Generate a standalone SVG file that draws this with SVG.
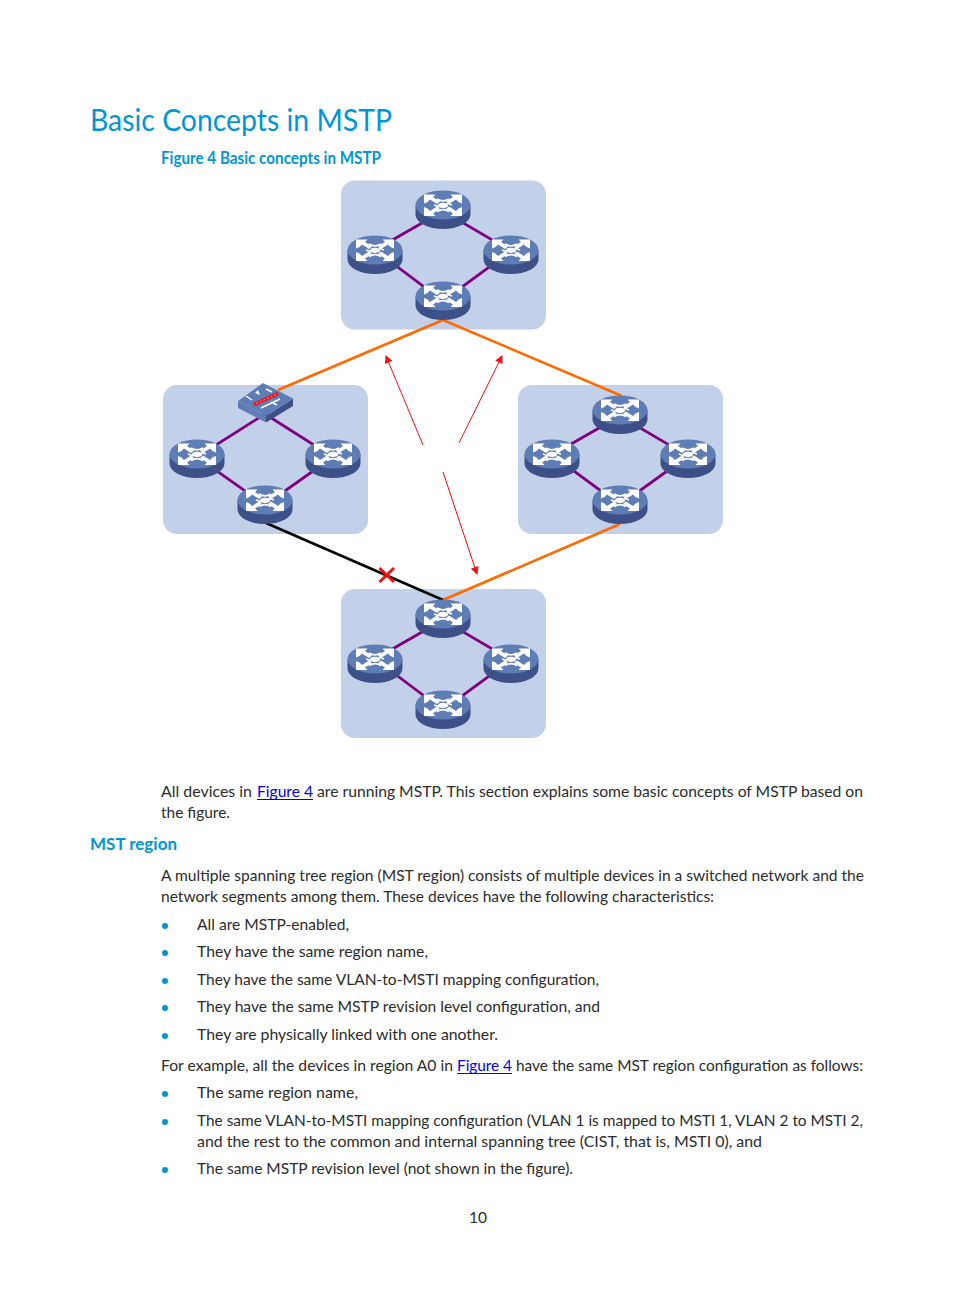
<svg xmlns="http://www.w3.org/2000/svg" width="954" height="1294" viewBox="0 0 954 1294">
<style>
text{font-family:"Lato","Liberation Sans",sans-serif;}
.b{font-size:16px;fill:#2b2b2b;}
.l{fill:#0000ee;}
.h{fill:#0096d6;font-weight:bold;font-size:16.500px;}
.r{fill:#c2d0ea;}
.p{stroke:#800080;stroke-width:2.800;fill:none;}
.o{stroke:#ff6a00;stroke-width:2.600;fill:none;}
.a{stroke:#f01010;stroke-width:1;fill:none;}
.d{fill:#0096d6;}
</style>
<defs>
<marker id="ah" viewBox="0 0 8 8" refX="7" refY="4" markerWidth="8" markerHeight="8" orient="auto" markerUnits="userSpaceOnUse"><path d="M0 0L8 4L0 8Z" fill="#f01010"/></marker>
<path id="cn" d="M-19-10.500H-7.500L-10-8L-3-3.500L-6-1L-13-5.500L-15.500-3L-19-1.500Z" fill="#fff"/>
<g id="rt">
<path d="M-27.500 0V9.500A27.500 14.500 0 0 0 27.500 9.500V0Z" fill="#3d5088"/>
<ellipse rx="27.500" ry="14.500" fill="#5f7db5"/>
<use href="#cn"/>
<use href="#cn" transform="scale(-1 1)"/>
<use href="#cn" transform="scale(1 -1) translate(0 -0.500)"/>
<use href="#cn" transform="scale(-1 -1) translate(0 -0.500)"/>
<path d="M-6-6C-2-3.500 2-3.500 6-6M-6 6.500C-2 4 2 4 6 6.500M-9 0C-6 1-6 1-4 2M9 0C6-1 6-1 4-2" stroke="#fff" stroke-width="1.800" fill="none"/>
<ellipse cx="0" cy="0.300" rx="5" ry="2.600" fill="#fff"/>
</g>
</defs>
<rect width="954" height="1294" fill="#fff"/>
<text x="90" y="131" font-size="31" fill="#0096d6" textLength="302" lengthAdjust="spacingAndGlyphs">Basic Concepts in MSTP</text>
<text x="161" y="164" class="h" textLength="220" lengthAdjust="spacingAndGlyphs">Figure 4 Basic concepts in MSTP</text>
<g id="regions">
<rect class="r" x="341" y="180.500" width="205" height="149" rx="14"/>
<rect class="r" x="163" y="385" width="205" height="149" rx="14"/>
<rect class="r" x="518" y="385" width="205" height="149" rx="14"/>
<rect class="r" x="341" y="589" width="205" height="149" rx="14"/>
</g>
<g id="connectors">
<path class="p" d="M443 211L375 250L443 301L511 251Z"/>
<path class="p" d="M265 414L197 457L265 505L333 457Z"/>
<path class="p" d="M620 416L552 455L620 505L688 456Z"/>
<path class="p" d="M443 620L375 659L443 710L511 660Z"/>
<path class="o" d="M278 390L443 320L622 396"/>
<path class="o" d="M620 524L443 600"/>
<path d="M266 523L443 600" stroke="#000" stroke-width="2.600" fill="none"/>
<path d="M379.500 568L394 582M394 568L379.500 582" stroke="#f01010" stroke-width="3" fill="none"/>
<path class="a" d="M423 445L386 356" marker-end="url(#ah)"/>
<path class="a" d="M459 443L502 356" marker-end="url(#ah)"/>
<path class="a" d="M443 472L477 574" marker-end="url(#ah)"/>
</g>
<g id="node-top-1"><use href="#rt" x="443" y="205"/></g>
<g id="node-top-2"><use href="#rt" x="375" y="250"/></g>
<g id="node-top-3"><use href="#rt" x="511" y="250"/></g>
<g id="node-top-4"><use href="#rt" x="443" y="296"/></g>
<g id="node-left-switch">
<path d="M238 401L266 416V422.500L238 408Z" fill="#5f7db5"/>
<path d="M293 398.500L266 416V422.500L293 406Z" fill="#3d5088"/>
<path d="M238 401L263 383L293 398.500L266 416Z" fill="#5f7db5"/>
<path d="M253 403L277 392L279 395L255 406Z" fill="#e8141c"/>
<path d="M256 403.500L276 394.500" stroke="#f4b0b0" stroke-width="1" stroke-dasharray="2 2" fill="none"/>
<path d="M261 408L280 399M246 396L252 400M266 389L272 392M271 402L277 405" stroke="#fff" stroke-width="1.500" fill="none"/>
<path d="M255 393L258 390L260 395Z" fill="#fff"/>
</g>
<g id="node-left-2"><use href="#rt" x="197" y="454"/></g>
<g id="node-left-3"><use href="#rt" x="333" y="454"/></g>
<g id="node-left-4"><use href="#rt" x="265" y="500"/></g>
<g id="node-right-1"><use href="#rt" x="620" y="410"/></g>
<g id="node-right-2"><use href="#rt" x="552" y="454"/></g>
<g id="node-right-3"><use href="#rt" x="688" y="454"/></g>
<g id="node-right-4"><use href="#rt" x="620" y="500"/></g>
<g id="node-bottom-1"><use href="#rt" x="443" y="614"/></g>
<g id="node-bottom-2"><use href="#rt" x="375" y="659"/></g>
<g id="node-bottom-3"><use href="#rt" x="511" y="659"/></g>
<g id="node-bottom-4"><use href="#rt" x="443" y="705"/></g>
<text class="b" x="161" y="796.500" textLength="91" lengthAdjust="spacingAndGlyphs">All devices in</text>
<text class="b l" x="257" y="796.500" textLength="56" lengthAdjust="spacingAndGlyphs">Figure 4</text>
<path d="M257 799.500H313" stroke="#0000ee" stroke-width="1"/>
<text class="b" x="317" y="796.500" textLength="546" lengthAdjust="spacingAndGlyphs">are running MSTP. This section explains some basic concepts of MSTP based on</text>
<text class="b" x="161" y="817.500" textLength="69" lengthAdjust="spacingAndGlyphs">the figure.</text>
<text class="h" x="90" y="850" style="font-size:17px" textLength="87" lengthAdjust="spacingAndGlyphs">MST region</text>
<text class="b" x="161" y="880.500" textLength="703" lengthAdjust="spacingAndGlyphs">A multiple spanning tree region (MST region) consists of multiple devices in a switched network and the</text>
<text class="b" x="161" y="901.500" textLength="553" lengthAdjust="spacingAndGlyphs">network segments among them. These devices have the following characteristics:</text>
<circle class="d" cx="165" cy="926" r="3"/>
<text class="b" x="197" y="929.500" textLength="152" lengthAdjust="spacingAndGlyphs">All are MSTP-enabled,</text>
<circle class="d" cx="165" cy="953" r="3"/>
<text class="b" x="197" y="957" textLength="231" lengthAdjust="spacingAndGlyphs">They have the same region name,</text>
<circle class="d" cx="165" cy="981" r="3"/>
<text class="b" x="197" y="984.500" textLength="402" lengthAdjust="spacingAndGlyphs">They have the same VLAN-to-MSTI mapping configuration,</text>
<circle class="d" cx="165" cy="1008" r="3"/>
<text class="b" x="197" y="1011.500" textLength="403" lengthAdjust="spacingAndGlyphs">They have the same MSTP revision level configuration, and</text>
<circle class="d" cx="165" cy="1036" r="3"/>
<text class="b" x="197" y="1039.500" textLength="301" lengthAdjust="spacingAndGlyphs">They are physically linked with one another.</text>
<text class="b" x="161" y="1070.500" textLength="292" lengthAdjust="spacingAndGlyphs">For example, all the devices in region A0 in</text>
<text class="b l" x="457" y="1070.500" textLength="55" lengthAdjust="spacingAndGlyphs">Figure 4</text>
<path d="M457 1073.500H512" stroke="#0000ee" stroke-width="1"/>
<text class="b" x="516" y="1070.500" textLength="347" lengthAdjust="spacingAndGlyphs">have the same MST region configuration as follows:</text>
<circle class="d" cx="165" cy="1094" r="3"/>
<text class="b" x="197" y="1097.500" textLength="161" lengthAdjust="spacingAndGlyphs">The same region name,</text>
<circle class="d" cx="165" cy="1122" r="3"/>
<text class="b" x="197" y="1125.500" textLength="666" lengthAdjust="spacingAndGlyphs">The same VLAN-to-MSTI mapping configuration (VLAN 1 is mapped to MSTI 1, VLAN 2 to MSTI 2,</text>
<text class="b" x="197" y="1146.500" textLength="565" lengthAdjust="spacingAndGlyphs">and the rest to the common and internal spanning tree (CIST, that is, MSTI 0), and</text>
<circle class="d" cx="165" cy="1170" r="3"/>
<text class="b" x="197" y="1173.500" textLength="376" lengthAdjust="spacingAndGlyphs">The same MSTP revision level (not shown in the figure).</text>
<text class="b" x="469" y="1222.500" textLength="18" lengthAdjust="spacingAndGlyphs">10</text>
</svg>
